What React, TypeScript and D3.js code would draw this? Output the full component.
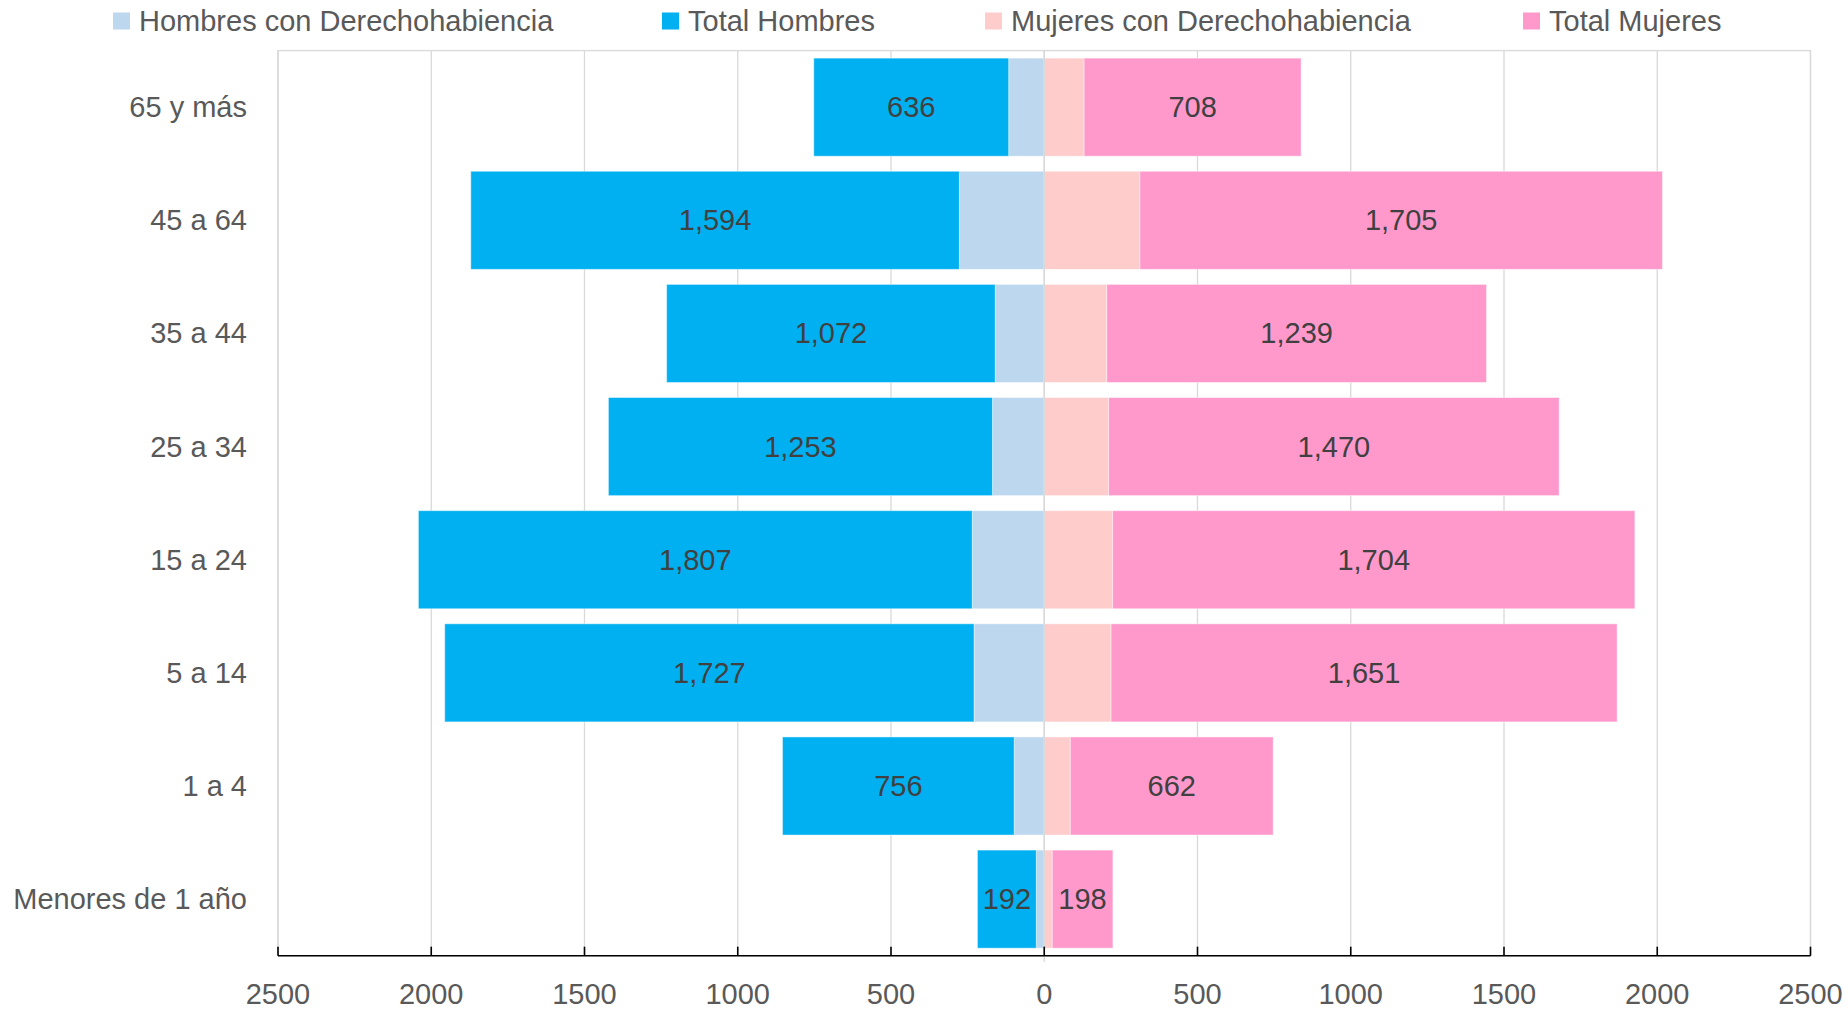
import React from "react";
import * as d3 from "d3";

const categories = ["65 y más", "45 a 64", "35 a 44", "25 a 34", "15 a 24", "5 a 14", "1 a 4", "Menores de 1 año"];
const hombresDH = [116, 277, 160, 169, 235, 229, 98, 26];
const totalHombres = [636, 1594, 1072, 1253, 1807, 1727, 756, 192];
const mujeresDH = [130, 312, 204, 210, 223, 218, 85, 26];
const totalMujeres = [708, 1705, 1239, 1470, 1704, 1651, 662, 198];
const xTicks = [-2500, -2000, -1500, -1000, -500, 0, 500, 1000, 1500, 2000, 2500];

const legendItems = [
  { label: "Hombres con Derechohabiencia", color: "#BDD7EE", x: 113 },
  { label: "Total Hombres", color: "#00B0F0", x: 662 },
  { label: "Mujeres con Derechohabiencia", color: "#FFCCCC", x: 985 },
  { label: "Total Mujeres", color: "#FF99CC", x: 1523 },
];

const W = 1847;
const H = 1011;
const FONT = "'Liberation Sans', Arial, sans-serif";
const TEXT = "#595959";

export default function App() {
  const left = 278;
  const right = 1810.5;
  const top = 50.6;
  const bottom = 955.7;

  const x = d3.scaleLinear().domain([-2500, 2500]).range([left, right]);
  const y = d3.scaleBand().domain(categories).range([top, bottom]).paddingInner(0.133).paddingOuter(0.0665);
  const bh = y.bandwidth();
  const fmt = d3.format(",");

  return (
    <svg width={W} height={H} style={{ position: "absolute", left: 0, top: 0, background: "#fff" }}>
      {/* legend */}
      {legendItems.map((l) => (
        <g key={l.label}>
          <rect x={l.x} y={12.5} width={17} height={17} fill={l.color} />
          <text x={l.x + 26} y={21} dominantBaseline="central" fontFamily={FONT} fontSize={29} fill={TEXT}>
            {l.label}
          </text>
        </g>
      ))}

      {/* grid */}
      <rect x={left} y={top} width={right - left} height={bottom - top} fill="none" stroke="#d9d9d9" strokeWidth={1.3} />
      {xTicks.map((t) => (
        <line key={t} x1={x(t)} x2={x(t)} y1={top} y2={bottom} stroke="#d9d9d9" strokeWidth={1.3} />
      ))}

      {/* bars */}
      {categories.map((c, i) => {
        const y0 = y(c)!;
        const mdh = hombresDH[i];
        const mt = totalHombres[i];
        const fdh = mujeresDH[i];
        const ft = totalMujeres[i];
        return (
          <g key={c} stroke="#fff" strokeOpacity={0.45} strokeWidth={1}>
            <rect x={x(-mdh)} y={y0} width={x(0) - x(-mdh)} height={bh} fill="#BDD7EE" />
            <rect x={x(-mdh - mt)} y={y0} width={x(-mdh) - x(-mdh - mt)} height={bh} fill="#00B0F0" />
            <rect x={x(0)} y={y0} width={x(fdh) - x(0)} height={bh} fill="#FFCCCC" />
            <rect x={x(fdh)} y={y0} width={x(fdh + ft) - x(fdh)} height={bh} fill="#FF99CC" />
          </g>
        );
      })}

      {/* zero axis line */}
      <line x1={x(0)} x2={x(0)} y1={top} y2={bottom + 6} stroke="#d9d9d9" strokeWidth={1.5} />

      {/* data labels */}
      {categories.map((c, i) => {
        const cy = y(c)! + bh / 2;
        const mdh = hombresDH[i];
        const mt = totalHombres[i];
        const fdh = mujeresDH[i];
        const ft = totalMujeres[i];
        return (
          <g key={c} fontFamily={FONT} fontSize={29} fill="#404040" textAnchor="middle">
            <text x={x(-mdh - mt / 2)} y={cy} dominantBaseline="central">{fmt(mt)}</text>
            <text x={x(fdh + ft / 2)} y={cy} dominantBaseline="central">{fmt(ft)}</text>
          </g>
        );
      })}

      {/* category labels */}
      {categories.map((c) => (
        <text
          key={c}
          x={247}
          y={y(c)! + bh / 2}
          textAnchor="end"
          dominantBaseline="central"
          fontFamily={FONT}
          fontSize={29}
          fill={TEXT}
        >
          {c}
        </text>
      ))}

      {/* x axis */}
      <line x1={left} x2={right} y1={bottom} y2={bottom} stroke="#000" strokeWidth={1.6} />
      {xTicks.map((t) => (
        <g key={t}>
          <line x1={x(t)} x2={x(t)} y1={bottom} y2={bottom - 9} stroke="#000" strokeWidth={1.6} />
          <text x={x(t)} y={1004} textAnchor="middle" fontFamily={FONT} fontSize={29} fill={TEXT}>
            {Math.abs(t)}
          </text>
        </g>
      ))}
    </svg>
  );
}
